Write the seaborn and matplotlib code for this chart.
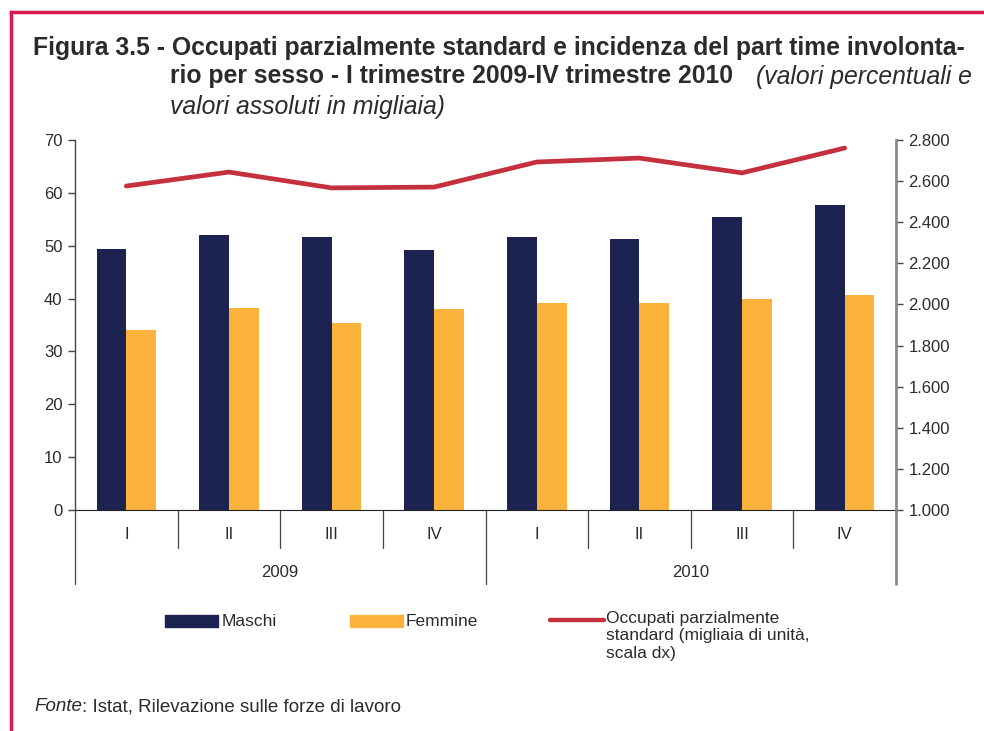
import matplotlib
matplotlib.use("Agg")
import matplotlib.pyplot as plt
import matplotlib.transforms as mtransforms
from matplotlib.patches import Rectangle
from matplotlib.lines import Line2D
from matplotlib.ticker import FuncFormatter
import numpy as np
import pandas as pd
import seaborn as sns

# data
years = ["2009", "2010"]
quarters = ["I", "II", "III", "IV"]
maschi = [49.4, 52.0, 51.6, 49.2, 51.6, 51.3, 55.4, 57.7]
femmine = [34.1, 38.2, 35.4, 38.0, 39.2, 39.2, 39.9, 40.7]
occupati = [2576, 2644, 2567, 2571, 2693, 2712, 2640, 2761]

labels = [f"{y} {q}" for y in years for q in quarters]
df = pd.DataFrame({
    "periodo": labels * 2,
    "valore": maschi + femmine,
    "sesso": ["Maschi"] * len(labels) + ["Femmine"] * len(labels),
})

NAVY = "#1c2350"
ORANGE = "#fbb33b"
RED = "#c4303e"
FRAME = "#d81b4f"
TXT = "#2b2b2b"

sns.set_style("white")
plt.rcParams["font.family"] = ["Liberation Sans", "DejaVu Sans"]

fig = plt.figure(figsize=(9.84, 7.31), dpi=100)
W, H = 984, 731


def fx(px):
    return px / W


def fy(py):
    return 1 - py / H


ax = fig.add_axes([fx(75), fy(510), fx(896) - fx(75), fy(140) - fy(510)])
sns.barplot(data=df, x="periodo", y="valore", hue="sesso", order=labels,
            palette={"Maschi": NAVY, "Femmine": ORANGE}, width=0.58,
            saturation=1, linewidth=0, ax=ax, legend=False)
ax.set_xlim(-0.5, len(labels) - 0.5)
ax.set_ylim(0, 70)
ax.set_yticks(range(0, 71, 10))
ax.set_xticks([])
ax.set_xlabel("")
ax.set_ylabel("")
for s in ["top", "right"]:
    ax.spines[s].set_visible(False)
ax.spines["left"].set_color("#444444")
ax.spines["bottom"].set_color("#222222")
ax.spines["left"].set_linewidth(1)
ax.tick_params(axis="y", direction="out", length=5, width=1, color="#444444",
               labelsize=12, labelcolor=TXT, pad=4)

ax2 = ax.twinx()
sns.lineplot(x=np.arange(len(labels)), y=occupati, color=RED, lw=3.4, ax=ax2)
ax2.set_ylim(1000, 2800)
ax2.set_yticks(range(1000, 2801, 200))
ax2.yaxis.set_major_formatter(FuncFormatter(lambda v, p: f"{int(v):,}".replace(",", ".")))
for s in ["top", "left", "bottom"]:
    ax2.spines[s].set_visible(False)
ax2.spines["right"].set_color("#8a8a8a")
ax2.spines["right"].set_linewidth(2)
ax2.tick_params(axis="y", direction="out", length=5, width=1, color="#444444",
                labelsize=12, labelcolor=TXT, pad=4)
ax2.set_xlim(-0.5, len(labels) - 0.5)

# two-level category axis
tr = mtransforms.blended_transform_factory(ax.transData, ax.transAxes)
for i in range(len(labels) + 1):
    b = i - 0.5
    y_end = -0.2 if i % len(quarters) == 0 else -0.103
    last = i == len(labels)
    ax.plot([b, b], [0, y_end], color="#8a8a8a" if last else "#444444",
            lw=2 if last else 0.9, transform=tr, clip_on=False)
for i, lab in enumerate(labels):
    ax.text(i, -0.066, lab.split()[1], transform=tr, ha="center", va="center",
            fontsize=12, color=TXT)
for j, y in enumerate(years):
    ax.text(j * len(quarters) + (len(quarters) - 1) / 2, -0.17, y, transform=tr,
            ha="center", va="center", fontsize=12, color=TXT)

# legend
fig.add_artist(Rectangle((fx(165), fy(627)), fx(53), fy(615) - fy(627), color=NAVY,
                         transform=fig.transFigure))
fig.text(fx(222), fy(621), "Maschi", fontsize=12.5, color=TXT, va="center")
fig.add_artist(Rectangle((fx(350), fy(627)), fx(53), fy(615) - fy(627), color=ORANGE,
                         transform=fig.transFigure))
fig.text(fx(406), fy(621), "Femmine", fontsize=12.5, color=TXT, va="center")
fig.add_artist(Line2D([fx(550), fx(604)], [fy(620), fy(620)], color=RED, lw=3.2,
                      solid_capstyle="round", transform=fig.transFigure))
fig.text(fx(606), fy(611), "Occupati parzialmente\nstandard (migliaia di unità,\nscala dx)",
         fontsize=12.5, color=TXT, va="top", linespacing=1.2)

# title
TS = 17.8
fig.text(fx(33), fy(48), "Figura 3.5 - Occupati parzialmente standard e incidenza del part time involonta-",
         fontsize=TS, fontweight="bold", color=TXT, va="center")
fig.text(fx(170), fy(76), "rio per sesso - I trimestre 2009-IV trimestre 2010",
         fontsize=TS, fontweight="bold", color=TXT, va="center")
fig.text(fx(972), fy(77), "(valori percentuali e", fontsize=TS, style="italic",
         color=TXT, va="center", ha="right")
fig.text(fx(170), fy(107), "valori assoluti in migliaia)", fontsize=TS, style="italic",
         color=TXT, va="center")

# source
renderer = fig.canvas.get_renderer()
t_fonte = fig.text(fx(34), fy(711), "Fonte", fontsize=13.5, style="italic", color=TXT,
                   va="baseline")
bb = t_fonte.get_window_extent(renderer=renderer)
fig.text(bb.x1 / W, fy(711), ": Istat, Rilevazione sulle forze di lavoro", fontsize=13.5,
         color=TXT, va="baseline")

# red frame
fig.add_artist(Line2D([fx(11), fx(11)], [fy(12), 0], color=FRAME, lw=2.5,
                      solid_capstyle="projecting", transform=fig.transFigure))
fig.add_artist(Line2D([fx(11), 1], [fy(12), fy(12)], color=FRAME, lw=2.5,
                      solid_capstyle="projecting", transform=fig.transFigure))

fig.savefig("out.png", dpi=100)
